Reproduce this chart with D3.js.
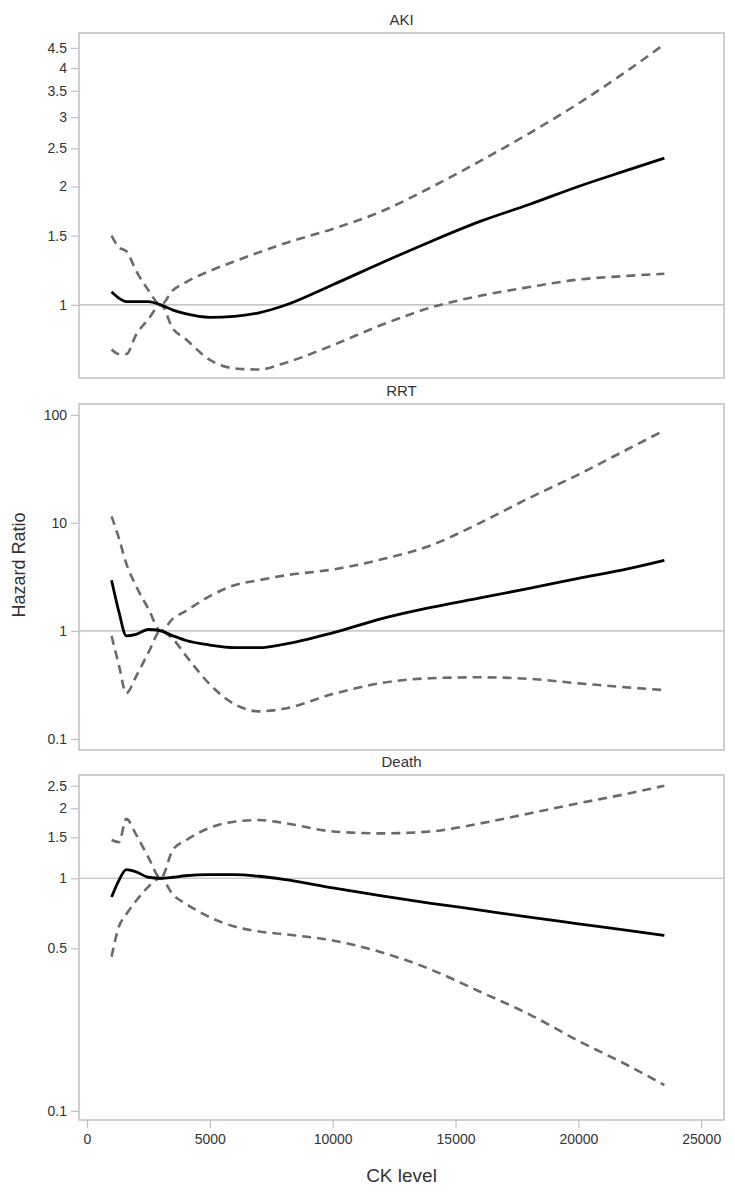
<!DOCTYPE html>
<html>
<head>
<meta charset="utf-8">
<script src="https://cdn.jsdelivr.net/npm/d3@7"></script>
<style>
  html, body { margin: 0; padding: 0; background: #fff; }
  svg { display: block; font-family: "Liberation Sans", Arial, Helvetica, sans-serif; }
</style>
</head>
<body>
<svg id="chart" width="735" height="1198"></svg>
<script>
// ---------- DATA ----------
const ckLevel = [1000, 1300, 1600, 2000, 2500, 3000, 3500, 4000, 5000, 6000, 7000, 8000, 10000, 12000, 14000, 16000, 18000, 20000, 22000, 23500];

const akiHR    = [1.08, 1.04, 1.02, 1.02, 1.02, 1.0, 0.97, 0.95, 0.93, 0.935, 0.955, 0.995, 1.125, 1.28, 1.45, 1.63, 1.80, 2.0, 2.2, 2.36];
const akiUpper = [1.50, 1.40, 1.37, 1.22, 1.09, 1.0, 1.09, 1.14, 1.22, 1.29, 1.36, 1.43, 1.56, 1.73, 1.99, 2.32, 2.73, 3.25, 3.94, 4.6];
const akiLower = [0.77, 0.75, 0.75, 0.84, 0.92, 1.0, 0.87, 0.82, 0.725, 0.69, 0.685, 0.71, 0.79, 0.89, 0.985, 1.055, 1.11, 1.16, 1.185, 1.2];

const rrtHR    = [2.94, 1.5, 0.9, 0.93, 1.03, 1.0, 0.9, 0.82, 0.74, 0.70, 0.70, 0.75, 0.96, 1.3, 1.65, 2.02, 2.48, 3.06, 3.75, 4.5];
const rrtUpper = [11.5, 7.2, 4.2, 2.6, 1.6, 1.0, 1.3, 1.52, 2.1, 2.65, 2.95, 3.25, 3.7, 4.6, 6.2, 10, 17, 28, 48, 72];
const rrtLower = [0.9, 0.48, 0.265, 0.38, 0.63, 1.0, 0.84, 0.6, 0.32, 0.21, 0.18, 0.19, 0.26, 0.33, 0.365, 0.372, 0.36, 0.327, 0.3, 0.283];

const deathHR    = [0.83, 0.98, 1.09, 1.065, 1.01, 1.0, 1.01, 1.025, 1.036, 1.036, 1.02, 0.99, 0.91, 0.84, 0.78, 0.73, 0.68, 0.637, 0.597, 0.568];
const deathUpper = [1.46, 1.43, 1.8, 1.54, 1.23, 1.0, 1.33, 1.45, 1.65, 1.75, 1.78, 1.73, 1.59, 1.56, 1.59, 1.72, 1.9, 2.1, 2.31, 2.5];
const deathLower = [0.46, 0.62, 0.70, 0.80, 0.92, 1.0, 0.85, 0.78, 0.68, 0.62, 0.59, 0.575, 0.54, 0.48, 0.405, 0.325, 0.26, 0.2, 0.157, 0.129];

const panelTitles = ["AKI", "RRT", "Death"];
const akiTicks   = [1, 1.5, 2, 2.5, 3, 3.5, 4, 4.5];
const rrtTicks   = [0.1, 1, 10, 100];
const deathTicks = [0.1, 0.5, 1, 1.5, 2, 2.5];
const xTicks     = [0, 5000, 10000, 15000, 20000, 25000];

const xLabel = "CK level";
const yLabel = "Hazard Ratio";

// ---------- LAYOUT ----------
const svg = d3.select("#chart");
const left = 79, right = 724;

const panels = [
  { title: panelTitles[0], hr: akiHR, up: akiUpper, lo: akiLower, ticks: akiTicks, domain: [0.652, 4.91], top: 33, bottom: 378 },
  { title: panelTitles[1], hr: rrtHR, up: rrtUpper, lo: rrtLower, ticks: rrtTicks, domain: [0.079, 126], top: 404, bottom: 750 },
  { title: panelTitles[2], hr: deathHR, up: deathUpper, lo: deathLower, ticks: deathTicks, domain: [0.0913, 2.78], top: 775, bottom: 1120 }
];

const x = d3.scaleLinear().domain([-325, 25927]).range([left, right]);

const frameColor = "#c4c4c4";
const textColor = "#333";

panels.forEach((p, i) => {
  const y = d3.scaleLog().domain(p.domain).range([p.bottom, p.top]);
  const g = svg.append("g");

  // reference line at HR = 1
  g.append("line")
    .attr("x1", left).attr("x2", right)
    .attr("y1", y(1)).attr("y2", y(1))
    .attr("stroke", "#b4b4b4").attr("stroke-width", 1.2);

  // y axis
  const yAxis = d3.axisLeft(y).tickValues(p.ticks).tickSize(8).tickPadding(4)
    .tickFormat(d => String(d));
  const ya = g.append("g").attr("transform", `translate(${left},0)`).call(yAxis);
  ya.select(".domain").remove();
  ya.selectAll(".tick line").attr("stroke", frameColor).attr("stroke-width", 1.3);
  ya.selectAll(".tick text").attr("fill", textColor).style("font-size", "14px");

  // lines
  const mk = arr => d3.line()
    .x((d, k) => x(ckLevel[k]))
    .y(d => y(d))
    .curve(d3.curveMonotoneX)(arr);

  [p.up, p.lo].forEach(arr => {
    g.append("path").attr("d", mk(arr))
      .attr("fill", "none").attr("stroke", "#6a6a6a")
      .attr("stroke-width", 2.6).attr("stroke-dasharray", "9,6");
  });
  g.append("path").attr("d", mk(p.hr))
    .attr("fill", "none").attr("stroke", "#000")
    .attr("stroke-width", 2.8);

  // frame
  g.append("rect")
    .attr("x", left).attr("y", p.top)
    .attr("width", right - left).attr("height", p.bottom - p.top)
    .attr("fill", "none").attr("stroke", frameColor).attr("stroke-width", 1.6);

  // title
  g.append("text")
    .attr("x", (left + right) / 2).attr("y", p.top - 8)
    .attr("text-anchor", "middle").attr("fill", textColor)
    .style("font-size", "15px").text(p.title);

  // x axis on bottom panel only
  if (i === panels.length - 1) {
    const xAxis = d3.axisBottom(x).tickValues(xTicks).tickSize(8).tickPadding(6)
      .tickFormat(d3.format("d"));
    const xa = g.append("g").attr("transform", `translate(0,${p.bottom})`).call(xAxis);
    xa.select(".domain").remove();
    xa.selectAll(".tick line").attr("stroke", frameColor).attr("stroke-width", 1.3);
    xa.selectAll(".tick text").attr("fill", textColor).style("font-size", "14px");
  }
});

// axis labels
svg.append("text")
  .attr("x", (left + right) / 2).attr("y", 1182)
  .attr("text-anchor", "middle").attr("fill", textColor)
  .style("font-size", "19px").text(xLabel);

svg.append("text")
  .attr("transform", `translate(25,565) rotate(-90)`)
  .attr("text-anchor", "middle").attr("fill", textColor)
  .style("font-size", "18px").text(yLabel);
</script>
</body>
</html>
